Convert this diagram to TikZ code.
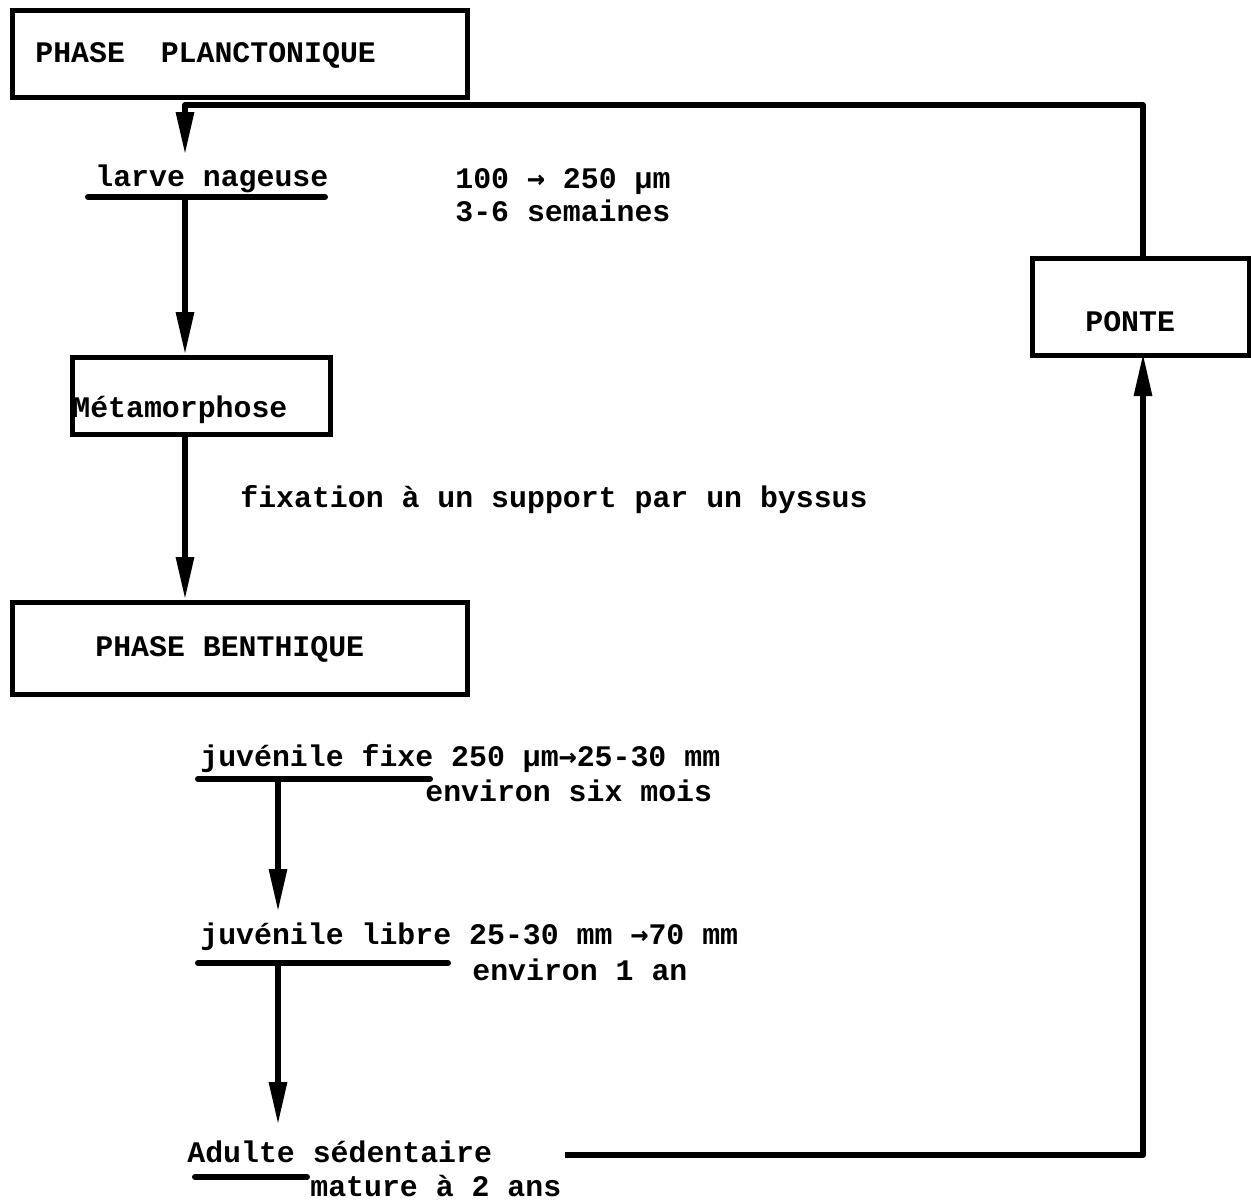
\documentclass[tikz,border=0pt]{standalone}
\usepackage{fontspec}
\setmonofont{Liberation Mono}
\newfontfamily\arrowfont{DejaVu Sans Mono}
\usetikzlibrary{arrows.meta,positioning}

\tikzset{
    phasebox/.style={draw, line width=2.8pt, rectangle, inner sep=0pt},
    txt/.style={font=\ttfamily\bfseries\fontsize{17}{20}\selectfont, inner sep=0pt, anchor=base west},
    flow/.style={line width=3.4pt, line join=round, -{Triangle[length=0.86cm,width=0.34cm]}},
    uline/.style={line width=3.4pt, line cap=round}
}
\newcommand{\ar}{{\arrowfont\symbol{"2192}}}

\begin{document}
\begin{tikzpicture}[x=0.02cm, y=-0.02cm]
    % Page (pixel-like units)
    \fill[white] (0,0) rectangle (1251,1201);
    \useasboundingbox (0,0) rectangle (1251,1201);

    % Boxes
    \node[phasebox, minimum width=9.1cm, minimum height=1.74cm, anchor=north west] (plancto) at (10,8) {};
    \node[phasebox, minimum width=5.16cm, minimum height=1.54cm, anchor=north west] (meta) at (70,355) {};
    \node[phasebox, minimum width=9.1cm, minimum height=1.84cm, anchor=north west] (benth) at (10,600) {};
    \node[phasebox, minimum width=4.34cm, minimum height=1.94cm, anchor=north west] (ponte) at (1030,256) {};

    % Texts
    \node[txt] (planctoLbl) at (35,62) {PHASE\ \ PLANCTONIQUE};
    \node[txt] (larve) at (95,186) {larve nageuse};
    \node[txt] (tailleA) at (455,188) {100 \ar{} 250 µm};
    \node[txt] (dureeA) at (455,221) {3-6 semaines};
    \node[txt] (metaLbl) at (72,417) {Métamorphose};
    \node[txt] (fixation) at (240,507) {fixation à un support par un byssus};
    \node[txt] (benthLbl) at (95,656) {PHASE BENTHIQUE};
    \node[txt] (fixe) at (200,766) {juvénile fixe 250 µm\ar25-30 mm};
    \node[txt] (dureeB) at (425,801) {environ six mois};
    \node[txt] (libre) at (200,944) {juvénile libre 25-30 mm \ar70 mm};
    \node[txt] (dureeC) at (472,980) {environ 1 an};
    \node[txt] (adulte) at (187,1162) {Adulte sédentaire};
    \node[txt] (mature) at (310,1196) {mature à 2 ans};
    \node[txt] (ponteLbl) at (1085,331) {PONTE};

    % Underlines
    \coordinate (larveL) at (88,197);   \coordinate (larveR) at (325,197);
    \coordinate (fixeL) at (198,779);   \coordinate (fixeR) at (430,779);
    \coordinate (libreL) at (198,963);  \coordinate (libreR) at (448,963);
    \coordinate (adulteL) at (195,1177); \coordinate (adulteR) at (307,1177);
    \draw[uline] (larveL) -- (larveR);
    \draw[uline] (fixeL) -- (fixeR);
    \draw[uline] (libreL) -- (libreR);
    \draw[uline] (adulteL) -- (adulteR);

    % Vertical flow
    \coordinate (larveOut) at (185,197);
    \coordinate (fixeOut) at (278,779);
    \coordinate (libreIn) at (278,912);
    \coordinate (libreOut) at (278,963);
    \coordinate (adulteIn) at (278,1125);
    \draw[flow] (larveOut) -- (larveOut |- meta.north);
    \draw[flow] (larveOut |- meta.south) -- (larveOut |- benth.north);
    \draw[flow] (fixeOut) -- (libreIn);
    \draw[flow] (libreOut) -- (adulteIn);

    % Loop back: adulte -> ponte -> larve
    \coordinate (adulteEnd) at (565,1155);
    \coordinate (ponteIn) at (1143,353);
    \coordinate (ponteOut) at (1143,256);
    \coordinate (loopTop) at (1143,105);
    \coordinate (larveIn) at (185,155);
    \draw[flow] (adulteEnd) -| (ponteIn);
    \draw[flow] (ponteOut) -- (loopTop) -| (larveIn);
\end{tikzpicture}
\end{document}
